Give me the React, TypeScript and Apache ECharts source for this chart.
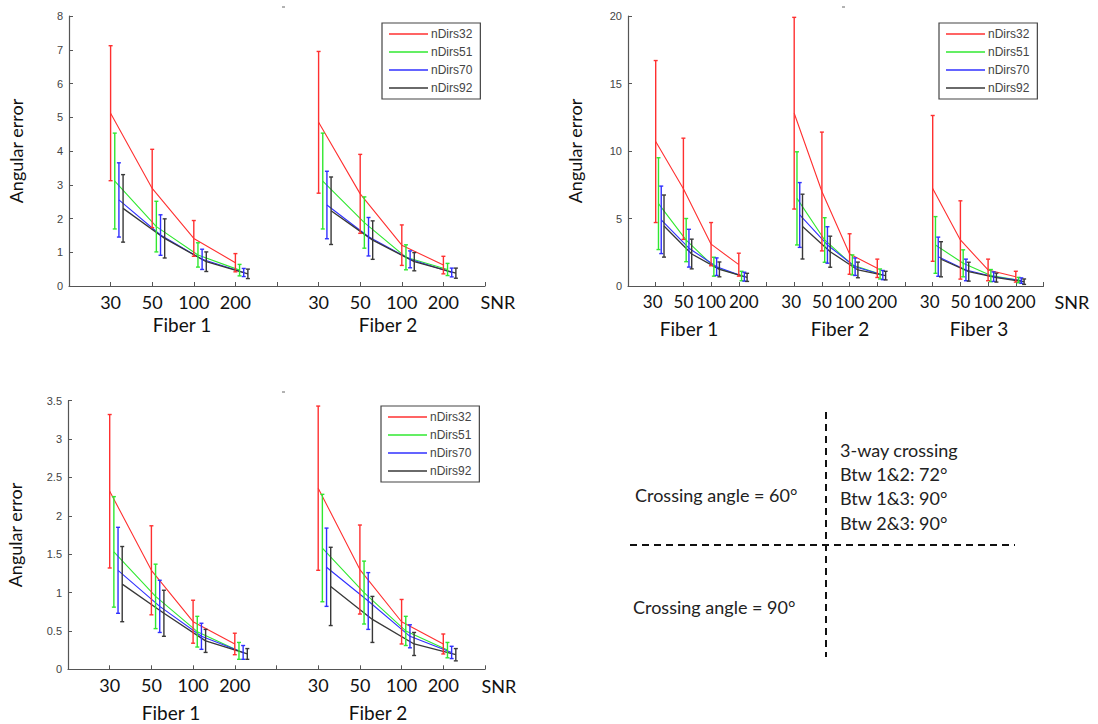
import React, { useEffect, useRef } from "react";
import * as echarts from "echarts";

// ---------- data ----------
const snrLabels = ["30", "50", "100", "200"];
const seriesNames = ["nDirs32", "nDirs51", "nDirs70", "nDirs92"];
const seriesColors = ["#ff3030", "#30e830", "#3030ff", "#383838"];

// rows: nDirs32, nDirs51, nDirs70, nDirs92 ; columns: SNR 30, 50, 100, 200
// Crossing angle = 60°
const c60Fiber1Mean = [[5.12, 2.89, 1.41, 0.69], [3.11, 1.76, 0.92, 0.47], [2.55, 1.51, 0.79, 0.40], [2.30, 1.41, 0.72, 0.36]];
const c60Fiber1Err = [[2.0, 1.16, 0.53, 0.27], [1.42, 0.75, 0.36, 0.17], [1.1, 0.6, 0.3, 0.12], [1.0, 0.58, 0.29, 0.14]];
const c60Fiber2Mean = [[4.85, 2.73, 1.21, 0.62], [3.11, 1.88, 0.85, 0.49], [2.40, 1.46, 0.79, 0.40], [2.23, 1.36, 0.72, 0.38]];
const c60Fiber2Err = [[2.1, 1.17, 0.6, 0.26], [1.42, 0.76, 0.37, 0.18], [1.0, 0.57, 0.25, 0.13], [1.0, 0.57, 0.27, 0.15]];

// 3-way crossing
const c3wFiber1Mean = [[10.7, 7.2, 3.1, 1.58], [6.1, 3.4, 1.43, 0.74], [4.9, 2.8, 1.43, 0.69], [4.44, 2.37, 1.23, 0.64]];
const c3wFiber1Err = [[6.0, 3.75, 1.6, 0.85], [3.4, 1.6, 0.7, 0.35], [2.5, 1.4, 0.65, 0.33], [2.3, 1.1, 0.55, 0.3]];
const c3wFiber2Mean = [[12.8, 7.0, 2.37, 1.31], [6.49, 3.41, 1.56, 0.89], [5.26, 3.04, 1.43, 0.81], [4.4, 2.54, 1.19, 0.77]];
const c3wFiber2Err = [[7.1, 4.4, 1.5, 0.68], [3.45, 1.65, 0.74, 0.37], [2.4, 1.35, 0.65, 0.34], [2.4, 1.15, 0.58, 0.32]];
const c3wFiber3Mean = [[7.23, 3.41, 1.19, 0.69], [3.04, 1.68, 0.77, 0.44], [2.17, 1.19, 0.69, 0.40], [1.98, 1.06, 0.62, 0.32]];
const c3wFiber3Err = [[5.4, 2.9, 0.8, 0.4], [2.1, 1.0, 0.45, 0.2], [1.45, 0.8, 0.35, 0.2], [1.3, 0.7, 0.33, 0.2]];

// Crossing angle = 90°
const c90Fiber1Mean = [[2.32, 1.29, 0.62, 0.33], [1.53, 0.95, 0.49, 0.24], [1.29, 0.82, 0.43, 0.22], [1.11, 0.73, 0.37, 0.20]];
const c90Fiber1Err = [[1.0, 0.58, 0.28, 0.14], [0.72, 0.42, 0.2, 0.11], [0.56, 0.34, 0.17, 0.09], [0.49, 0.3, 0.15, 0.07]];
const c90Fiber2Mean = [[2.36, 1.30, 0.62, 0.33], [1.58, 1.0, 0.5, 0.25], [1.33, 0.89, 0.43, 0.22], [1.08, 0.65, 0.33, 0.19]];
const c90Fiber2Err = [[1.07, 0.58, 0.29, 0.13], [0.7, 0.41, 0.19, 0.1], [0.51, 0.37, 0.15, 0.08], [0.51, 0.3, 0.15, 0.08]];

const fiberLabels = ["Fiber 1", "Fiber 2", "Fiber 3"];
const yAxisName = "Angular error";
const xAxisName = "SNR";

// ---------- layout / styling ----------
const FONT = "Lato, 'Open Sans', sans-serif";
const GROUP = 5;
const OFFSET = 0.1;

const panels = [
  { grid: { left: 69, top: 16, width: 416, height: 270 }, yMax: 8, yInt: 1, xMax: 10, tickFont: 18, spread: false,
    means: [c60Fiber1Mean, c60Fiber2Mean], errs: [c60Fiber1Err, c60Fiber2Err],
    legend: { left: 382, top: 23 }, fiberPos: [[182, 324], [388, 324]], snrPos: [498, 302], nameGap: 44 },
  { grid: { left: 628, top: 16, width: 415.5, height: 270 }, yMax: 20, yInt: 5, xMax: 15, tickFont: 17, spread: true,
    means: [c3wFiber1Mean, c3wFiber2Mean, c3wFiber3Mean], errs: [c3wFiber1Err, c3wFiber2Err, c3wFiber3Err],
    legend: { left: 939, top: 23 }, fiberPos: [[689, 328], [840, 328], [979, 328]], snrPos: [1072, 302], nameGap: 44 },
  { grid: { left: 68, top: 400.7, width: 417, height: 268.6 }, yMax: 3.5, yInt: 0.5, xMax: 10, tickFont: 18, spread: false,
    means: [c90Fiber1Mean, c90Fiber2Mean], errs: [c90Fiber1Err, c90Fiber2Err],
    legend: { left: 381, top: 406 }, fiberPos: [[171, 712], [378, 712]], snrPos: [499, 686], nameGap: 44 },
];

function buildOption() {
  const grids: any[] = [];
  const xAxes: any[] = [];
  const yAxes: any[] = [];
  const series: any[] = [];
  const legends: any[] = [];
  const graphics: any[] = [];

  panels.forEach((p, pi) => {
    grids.push({ ...p.grid, containLabel: false });
    const richBase = { fontFamily: FONT, fontSize: p.tickFont, color: "#111" };
    xAxes.push({
      type: "value", gridIndex: pi, min: 0, max: p.xMax, interval: 1,
      axisLine: { lineStyle: { color: "#555", width: 1.2 } },
      axisTick: { inside: true, length: 4, lineStyle: { color: "#555" } },
      splitLine: { show: false },
      axisLabel: {
        margin: 7, color: "#111", fontFamily: FONT, fontSize: p.tickFont,
        formatter: (v: number) => {
          const k = Math.round(v) % GROUP;
          if (k === 0) return "";
          const t = snrLabels[k - 1];
          if (!p.spread) return t;
          // crowded panel: nudge the outer labels apart like the original
          if (k === 1) return `{l|${t}}`;
          if (k === 4) return `{r|${t}}`;
          return `{m|${t}}`;
        },
        rich: {
          l: { ...richBase, padding: [0, 6, 0, 0] },
          m: { ...richBase },
          r: { ...richBase, padding: [0, 0, 0, 10] },
        },
      },
    });
    yAxes.push({
      type: "value", gridIndex: pi, min: 0, max: p.yMax, interval: p.yInt,
      name: yAxisName, nameLocation: "middle", nameGap: p.nameGap, nameRotate: 90,
      nameTextStyle: { fontFamily: FONT, fontSize: 18, color: "#111" },
      axisLine: { show: true, lineStyle: { color: "#555", width: 1.2 } },
      axisTick: { show: true, inside: true, length: 4, lineStyle: { color: "#555" } },
      splitLine: { show: false },
      axisLabel: { margin: 6, color: "#444", fontFamily: "Arial, 'Liberation Sans', sans-serif", fontSize: 11 },
    });

    p.means.forEach((fiberMeans, fi) => {
      fiberMeans.forEach((row, si) => {
        const color = seriesColors[si];
        const xs = row.map((_, j) => fi * GROUP + 1 + j + si * OFFSET);
        series.push({
          type: "line", name: seriesNames[si], xAxisIndex: pi, yAxisIndex: pi,
          data: row.map((m, j) => [xs[j], m]),
          symbol: "none", color,
          lineStyle: { color, width: si === 3 ? 1.3 : 1.1 },
          z: 3,
        });
        series.push({
          type: "custom", name: seriesNames[si] + " err", xAxisIndex: pi, yAxisIndex: pi,
          data: row.map((m, j) => [xs[j], m, p.errs[fi][si][j]]),
          encode: { x: 0, y: 1 },
          z: 4,
          renderItem: (params: any, api: any) => {
            const x = api.value(0), y = api.value(1), e = api.value(2);
            const top = api.coord([x, y + e]);
            const bot = api.coord([x, Math.max(0, y - e)]);
            const hw = 2;
            const style = { stroke: color, lineWidth: 1.4 };
            return {
              type: "group",
              children: [
                { type: "line", shape: { x1: top[0], y1: top[1], x2: bot[0], y2: bot[1] }, style },
                { type: "line", shape: { x1: top[0] - hw, y1: top[1], x2: top[0] + hw, y2: top[1] }, style },
                { type: "line", shape: { x1: bot[0] - hw, y1: bot[1], x2: bot[0] + hw, y2: bot[1] }, style },
              ],
            };
          },
        });
      });
    });

    legends.push({
      data: seriesNames, left: p.legend.left, top: p.legend.top, orient: "vertical",
      selectedMode: false, icon: "rect", itemWidth: 39, itemHeight: 1.5, itemGap: 6,
      padding: [5, 8, 5, 7], borderColor: "#444", borderWidth: 1.2, backgroundColor: "#fff",
      textStyle: { fontFamily: "Arial, 'Liberation Sans', sans-serif", fontSize: 12, color: "#444", padding: [0, 0, 0, -2] },
    });

    p.fiberPos.forEach((pos, fi) => {
      graphics.push({
        type: "text", x: pos[0], y: pos[1],
        style: { text: fiberLabels[fi], font: `19px ${FONT}`, fill: "#111", align: "center", verticalAlign: "middle" },
      });
    });
    graphics.push({
      type: "text", x: p.snrPos[0], y: p.snrPos[1],
      style: { text: xAxisName, font: `18px ${FONT}`, fill: "#111", align: "center", verticalAlign: "middle" },
    });
  });

  // small stray marks above the panels
  [[282, 7], [842, 7], [282, 392]].forEach(([x, y]) => {
    graphics.push({ type: "line", shape: { x1: x, y1: y, x2: x + 3, y2: y }, style: { stroke: "#666", lineWidth: 1 } });
  });

  // annotation panel
  const dash = { stroke: "#111", lineWidth: 2, lineDash: [7, 5] };
  graphics.push({ type: "line", shape: { x1: 826, y1: 412, x2: 826, y2: 657 }, style: dash });
  graphics.push({ type: "line", shape: { x1: 630, y1: 545, x2: 1015, y2: 545 }, style: dash });
  const notes: [string, number, number][] = [
    ["Crossing angle = 60\u00b0", 635, 495],
    ["3-way crossing", 840, 450],
    ["Btw 1&2: 72\u00b0", 840, 474],
    ["Btw 1&3: 90\u00b0", 840, 498],
    ["Btw 2&3: 90\u00b0", 840, 523],
    ["Crossing angle = 90\u00b0", 633, 607],
  ];
  notes.forEach(([t, x, y]) => {
    graphics.push({ type: "text", x, y, style: { text: t, font: `18px ${FONT}`, fill: "#222", align: "left", verticalAlign: "middle" } });
  });

  return {
    animation: false,
    backgroundColor: "#fff",
    grid: grids,
    xAxis: xAxes,
    yAxis: yAxes,
    legend: legends,
    series,
    graphic: graphics,
  };
}

export default function App() {
  const ref = useRef<HTMLDivElement>(null);
  useEffect(() => {
    if (!ref.current) return;
    const chart = echarts.init(ref.current, null, { renderer: "svg" });
    chart.setOption(buildOption() as any);
    return () => chart.dispose();
  }, []);
  return (
    <div
      ref={ref}
      style={{ position: "fixed", left: 0, top: 0, width: 1098, height: 724, background: "#fff" }}
    />
  );
}
